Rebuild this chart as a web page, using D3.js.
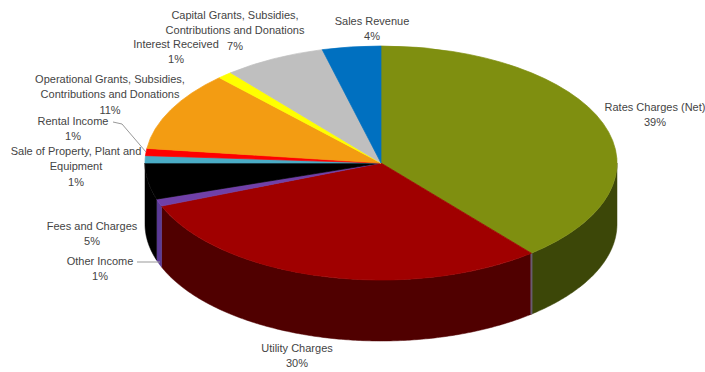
<!DOCTYPE html>
<html>
<head>
<meta charset="utf-8">
<script src="https://cdn.jsdelivr.net/npm/d3@7/dist/d3.min.js"></script>
<style>
  html, body { margin: 0; padding: 0; background: #fff; }
  svg { display: block; }
  text { font-family: "Liberation Sans", Arial, sans-serif; font-size: 11px; fill: #444; text-anchor: middle; }
</style>
</head>
<body>
<svg id="chart" width="705" height="372"></svg>
<script>
// Revenue shares, clockwise from twelve o'clock
const categories = ["Rates Charges (Net)", "Utility Charges", "Other Income", "Fees and Charges",
  "Sale of Property, Plant and Equipment", "Rental Income",
  "Operational Grants, Subsidies, Contributions and Donations", "Interest Received",
  "Capital Grants, Subsidies, Contributions and Donations", "Sales Revenue"];
const shares = [39, 30, 1, 5, 1, 1, 11, 1, 7, 4];
const topColours = ["#7f8f10", "#a00000", "#7040a8", "#000000", "#4bacc6", "#ff0000", "#f39c12", "#ffff00", "#bfbfbf", "#0070c0"];
const sideColours = ["#3c4708", "#500000", "#5a3a96", "#000000", "#2f7f95", "#a00000", "#a86a08", "#a0a000", "#808080", "#004a80"];

// Wrapped label text per category
const labelLines = [
  ["Rates Charges (Net)"], ["Utility Charges"], ["Other Income"], ["Fees and Charges"],
  ["Sale of Property, Plant and", "Equipment"], ["Rental Income"],
  ["Operational Grants, Subsidies,", "Contributions and Donations"], ["Interest Received"],
  ["Capital Grants, Subsidies,", "Contributions and Donations"], ["Sales Revenue"]
];
// Centre x and first baseline of each label
const labelX = [655, 297, 100, 92, 76, 73, 110, 176, 235, 372];
const labelY = [111, 352, 265, 230, 155, 125, 83, 48, 19, 25];
const lineGap = 15.3;

const width = 705, height = 372;
const cx = 381, cy = 163, rx = 236, ry = 117, depth = 61;

const svg = d3.select("#chart");
const pie = d3.pie().value(d => d).sort(null);
const arcs = pie(shares);

// Horizontal and vertical projection of the tilted disc
const px = a => cx + rx * Math.sin(a);
const py = a => cy - ry * Math.cos(a);

// The rim: only the part of each slice facing the viewer (PI/2 to 3PI/2)
const rim = d3.area()
  .x(px)
  .y0(py)
  .y1(a => py(a) + depth);

const rimGroup = svg.append("g");
arcs.forEach((d, i) => {
  const a0 = Math.max(d.startAngle, Math.PI / 2);
  const a1 = Math.min(d.endAngle, 3 * Math.PI / 2);
  if (a1 <= a0) return;
  const steps = d3.range(a0, a1, 0.01).concat([a1]);
  rimGroup.append("path")
    .attr("d", rim(steps))
    .attr("fill", sideColours[i])
    .attr("stroke", sideColours[i])
    .attr("stroke-width", 0.5);
});

// Seam between the two largest slices on the rim
const seam = arcs[0].endAngle;
rimGroup.append("line")
  .attr("x1", px(seam)).attr("x2", px(seam))
  .attr("y1", py(seam)).attr("y2", py(seam) + depth)
  .attr("stroke", "#6a5a70").attr("stroke-width", 2);

// Top face: a unit circle arc squashed into the ellipse
const arc = d3.arc().innerRadius(0).outerRadius(1);
svg.append("g")
  .attr("transform", `translate(${cx},${cy}) scale(${rx},${ry})`)
  .selectAll("path")
  .data(arcs)
  .join("path")
  .attr("d", arc)
  .attr("fill", (d, i) => topColours[i])
  .attr("stroke", (d, i) => topColours[i])
  .attr("stroke-width", 0.004);

// Leader lines for the two slices whose labels sit away from them
const leader = d3.line();
const leaders = [
  [[113, 122], [122, 124], [146, 152]],
  [[137, 262], [160, 262]]
];
svg.append("g").selectAll("path")
  .data(leaders)
  .join("path")
  .attr("d", leader)
  .attr("fill", "none")
  .attr("stroke", "#999")
  .attr("stroke-width", 1);

// Category name lines followed by the percentage
const labels = svg.append("g").selectAll("text")
  .data(categories)
  .join("text")
  .attr("transform", (d, i) => `translate(${labelX[i]},${labelY[i]})`);
labels.each(function (d, i) {
  const rows = labelLines[i].concat(shares[i] + "%");
  d3.select(this).selectAll("tspan")
    .data(rows)
    .join("tspan")
    .attr("x", 0)
    .attr("y", (r, k) => k * lineGap)
    .text(r => r);
});
</script>
</body>
</html>
